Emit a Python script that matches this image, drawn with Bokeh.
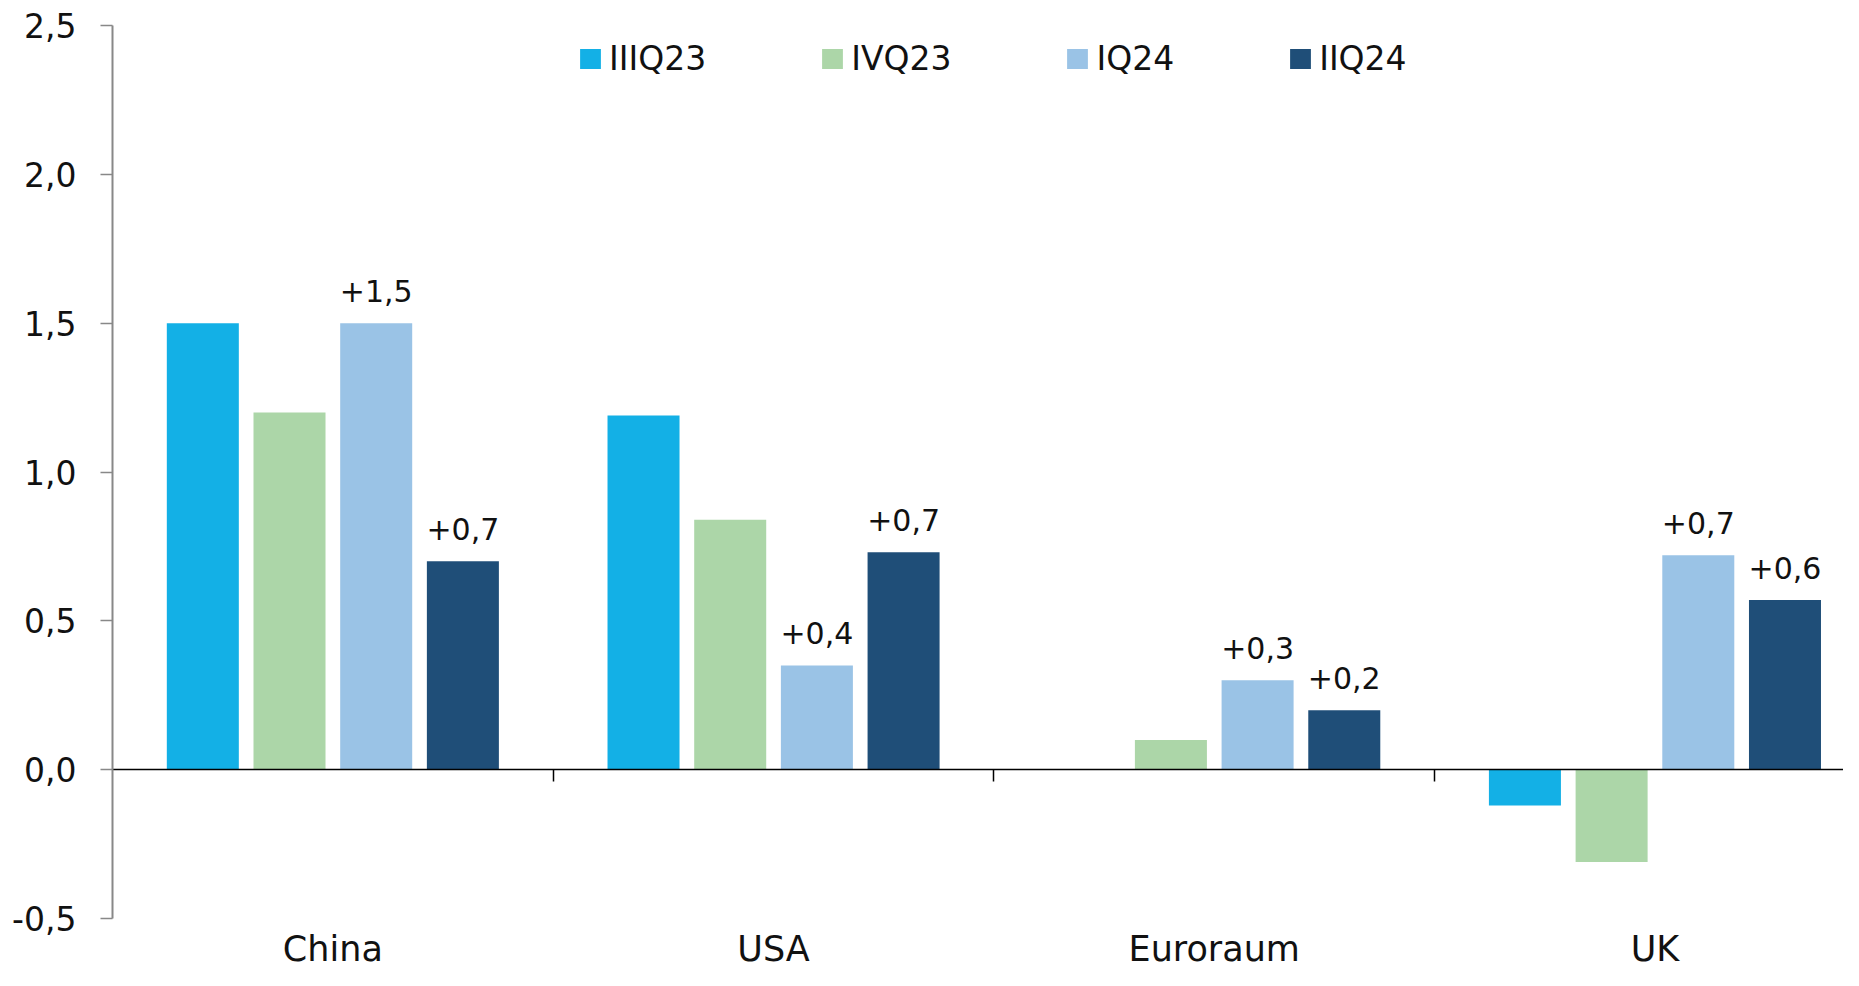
import numpy as np
from bokeh.plotting import figure
from bokeh.models import (ColumnDataSource, Range1d, FixedTicker, LinearAxis,
                          Legend, LegendItem, LabelSet)
from bokeh.core.properties import value
from bokeh.embed import file_html
from bokeh.resources import INLINE

# ---- data ----
categories = ["China", "USA", "Euroraum", "UK"]
series = ["IIIQ23", "IVQ23", "IQ24", "IIQ24"]
iiiq23 = [1.50, 1.19, 0.0, -0.12]
ivq23 = [1.20, 0.84, 0.10, -0.31]
iq24 = [1.50, 0.35, 0.30, 0.72]
iiq24 = [0.70, 0.73, 0.20, 0.57]
iq24_labels = ["+1,5", "+0,4", "+0,3", "+0,7"]
iiq24_labels = ["+0,7", "+0,7", "+0,2", "+0,6"]
y_ticks = [-0.5, 0.0, 0.5, 1.0, 1.5, 2.0, 2.5]
y_tick_labels = ["-0,5", "0,0", "0,5", "1,0", "1,5", "2,0", "2,5"]

colors = ["#13B0E6", "#ACD6A8", "#9AC3E6", "#1F4E78"]
FONT = "DejaVu Sans"

W, H = 1843, 970
left_b, top_b = 112, 25
axis_bottom_px = 918          # where -0.5 sits on the page
y_lo, y_hi = y_ticks[0], y_ticks[-1]
px_per_unit = (axis_bottom_px - top_b) / (y_hi - y_lo)
y_start = y_lo - (H - axis_bottom_px) / px_per_unit
cat_px = 440.7
x_end = (W - left_b) / cat_px

p = figure(width=W, height=H, output_backend="svg", toolbar_location=None,
           x_range=Range1d(0, x_end), y_range=Range1d(y_start, y_hi),
           min_border_left=left_b, min_border_top=top_b,
           min_border_bottom=0, min_border_right=0,
           background_fill_color="white", border_fill_color="white")
p.outline_line_color = None
p.grid.visible = False

pitch = 0.1967
bar_w = 0.1634
cat_idx = np.arange(len(categories))
all_vals = [iiiq23, ivq23, iq24, iiq24]
legend_items = []
for j, (name, vals, col) in enumerate(zip(series, all_vals, colors)):
    xs = cat_idx + 0.5 + (j - 1.5) * pitch
    src = ColumnDataSource(dict(x=xs, top=vals))
    r = p.vbar(x="x", top="top", bottom=0, width=bar_w, source=src,
               fill_color=col, line_color=None)
    legend_items.append(LegendItem(label=name, renderers=[r]))
    if name == "IQ24" or name == "IIQ24":
        labs = iq24_labels if name == "IQ24" else iiq24_labels
        lsrc = ColumnDataSource(dict(x=xs, y=vals, t=labs))
        p.text(x="x", y="y", text="t", source=lsrc, y_offset=-21,
               text_align="center", text_baseline="bottom",
               text_font=value(FONT), text_font_size="30px",
               text_color="#111111")

# y axis
ya = p.yaxis[0]
ya.bounds = (y_lo, y_hi)
ya.ticker = FixedTicker(ticks=y_ticks, minor_ticks=[])
ya.major_label_overrides = {t: s for t, s in zip(y_ticks, y_tick_labels)}
ya.axis_line_color = "#888888"
ya.axis_line_width = 2
ya.major_tick_line_color = "#888888"
ya.major_tick_line_width = 1.5
ya.major_tick_out = 12
ya.major_tick_in = 0
ya.minor_tick_line_color = None
ya.major_label_standoff = 24
ya.major_label_text_font = FONT
ya.major_label_text_font_size = "33px"
ya.major_label_text_color = "#111111"

# default x axis hidden; category names drawn as labels at the bottom of the frame
p.xaxis.visible = False
csrc = ColumnDataSource(dict(x=cat_idx + 0.5, name=categories))
cat_labels = LabelSet(x="x", y=10, y_units="screen", text="name", source=csrc,
                      text_align="center", text_baseline="alphabetic",
                      text_font=value(FONT), text_font_size=value("35px"),
                      text_color=value("#111111"))
p.add_layout(cat_labels)

# zero axis with category separators
za = LinearAxis(fixed_location=0,
                ticker=FixedTicker(ticks=list(cat_idx[1:].astype(float)), minor_ticks=[]))
za.axis_line_color = "black"
za.axis_line_width = 1.5
za.major_tick_line_color = "black"
za.major_tick_line_width = 1.5
za.major_tick_out = 12
za.major_tick_in = 0
za.minor_tick_line_color = None
za.major_label_text_font_size = "0px"
za.major_label_text_alpha = 0
p.add_layout(za, "below")

legend = Legend(items=legend_items, orientation="horizontal",
                location=(465, 892), padding=0, margin=0, spacing=113,
                glyph_width=26, glyph_height=25, label_standoff=6,
                label_text_font=FONT, label_text_font_size="33px",
                label_text_color="#111111", border_line_color=None,
                background_fill_alpha=0)
p.add_layout(legend)

open("out.html", "w").write(file_html(p, INLINE))
